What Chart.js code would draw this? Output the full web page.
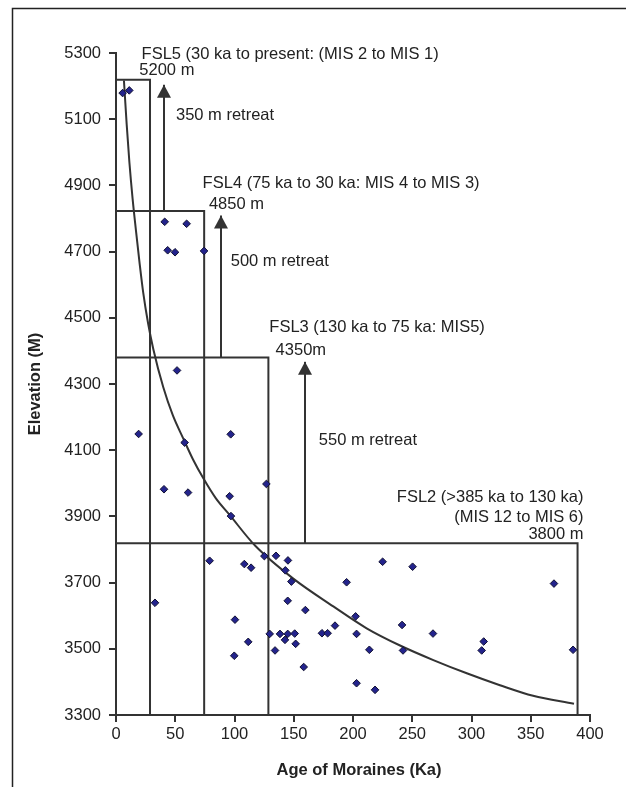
<!DOCTYPE html>
<html><head><meta charset="utf-8">
<script src="https://cdn.jsdelivr.net/npm/chart.js@4.4.0/dist/chart.umd.min.js"></script>
<style>html,body{margin:0;padding:0;background:#fff;} canvas{display:block;}</style>
</head><body>
<canvas id="c" width="626" height="787"></canvas>
<script>
// ---- data ----
const moraineAge  = [5.6, 11.2, 41.1, 59.6, 43.6, 49.8, 74.3, 51.5, 19.1, 57.9, 96.8, 40.5, 60.8, 95.9, 126.9, 97, 79, 32.9, 108.3, 114, 125.2, 135, 145.1, 142.9, 148, 144.9, 159.8, 100.4, 129.7, 138.4, 144.9, 150.8, 142.6, 151.6, 111.6, 134.2, 99.8, 158.4, 173.8, 178.6, 184.8, 194.6, 202.2, 203, 203, 213.8, 218.6, 225, 250.3, 241.4, 242.2, 267.5, 308.6, 310.3, 369.6, 385.7];
const moraineElev = [5179, 5187, 4790, 4784, 4704, 4698, 4702, 4341, 4149, 4123, 4148, 3982, 3972, 3961, 3998, 3901, 3766, 3639, 3756, 3745, 3780, 3781, 3767, 3737, 3703, 3645, 3617, 3588, 3545, 3545, 3545, 3546, 3527, 3515, 3521, 3495, 3479, 3445, 3547, 3547, 3570, 3701, 3598, 3545, 3396, 3497, 3376, 3763, 3748, 3572, 3495, 3546, 3495, 3522, 3697, 3497];
const trendAge  = [6.7, 9, 11.3, 14, 16.9, 20, 23, 27, 31.5, 39.9, 48, 56.8, 65, 73.7, 84, 96.2, 117.3, 149.6, 183.4, 211.5, 239.7, 267.8, 296, 324, 352, 386.5];
const trendElev = [5217, 5085, 4970, 4860, 4762, 4662, 4575, 4485, 4405, 4290, 4205, 4135, 4072, 4015, 3956, 3903, 3812, 3712, 3628, 3562, 3510, 3466, 3426, 3390, 3358, 3334];
const xTickValues = [0, 50, 100, 150, 200, 250, 300, 350, 400];
const yTickValues = [3300, 3500, 3700, 3900, 4100, 4300, 4500, 4700, 4900, 5100, 5300];
const stageNames    = ['FSL5', 'FSL4', 'FSL3', 'FSL2'];
const stageAgeLimit = [28.7, 74.4, 128.6, 389.5];
const stageElevTop  = [5219, 4823, 4380, 3819];
const arrowAge  = [40.5, 88.6, 159.5];
const arrowBase = [4823, 4380, 3819];
const arrowTip  = [5204, 4809, 4367];

// ---- annotation texts (anchored in data coordinates) ----
const notes = [
  {t:'FSL5 (30 ka to present: (MIS 2 to MIS 1)', x:21.6, y:5295, a:'left'},
  {t:'5200 m', x:19.7, y:5247, a:'left'},
  {t:'350 m retreat', x:50.6, y:5111, a:'left'},
  {t:'FSL4 (75 ka to 30 ka: MIS 4 to MIS 3)', x:73.1, y:4907, a:'left'},
  {t:'4850 m', x:78.4, y:4841, a:'left'},
  {t:'500 m retreat', x:96.8, y:4669, a:'left'},
  {t:'FSL3 (130 ka to 75 ka: MIS5)', x:129.4, y:4470, a:'left'},
  {t:'4350m', x:134.7, y:4402, a:'left'},
  {t:'550 m retreat', x:171.2, y:4130, a:'left'},
  {t:'FSL2 (>385 ka to 130 ka)', x:394.5, y:3957, a:'right'},
  {t:'(MIS 12 to MIS 6)', x:394.5, y:3898, a:'right'},
  {t:'3800 m', x:394.5, y:3846, a:'right'}
];

const FONT = '"Liberation Sans", Arial, sans-serif';
const LINE = '#333333';

const datasets = [];
datasets.push({
  label: 'Moraines',
  data: moraineAge.map((a, i) => ({x: a, y: moraineElev[i]})),
  pointStyle: 'rectRot', pointRadius: 3.8, pointBorderWidth: 1,
  backgroundColor: '#23238c', borderColor: '#111133', showLine: false, order: 0
});
datasets.push({
  label: 'Trend',
  data: trendAge.map((a, i) => ({x: a, y: trendElev[i]})),
  showLine: true, pointRadius: 0, borderColor: LINE, borderWidth: 2,
  cubicInterpolationMode: 'monotone', fill: false, order: 1
});
stageNames.forEach((n, i) => {
  datasets.push({
    label: n,
    data: [{x: 0, y: stageElevTop[i]}, {x: stageAgeLimit[i], y: stageElevTop[i]}, {x: stageAgeLimit[i], y: 3300}],
    showLine: true, pointRadius: 0, borderColor: LINE, borderWidth: 2, tension: 0, clip: false, order: 2
  });
});
arrowAge.forEach((a, i) => {
  datasets.push({
    label: 'arrow' + i,
    data: [{x: a, y: arrowBase[i]}, {x: a, y: arrowTip[i]}],
    showLine: true, pointRadius: 0, borderColor: LINE, borderWidth: 2, tension: 0, clip: false, order: 2
  });
});

const decor = {
  id: 'decor',
  beforeDraw(chart) {
    const ctx = chart.ctx;
    ctx.save();
    ctx.fillStyle = '#fff';
    ctx.fillRect(0, 0, chart.width, chart.height);
    ctx.strokeStyle = '#222';
    ctx.lineWidth = 1.5;
    ctx.beginPath();
    ctx.moveTo(12.5, 787); ctx.lineTo(12.5, 8.5); ctx.lineTo(626, 8.5);
    ctx.stroke();
    ctx.restore();
  },
  afterDatasetsDraw(chart) {
    const ctx = chart.ctx, xs = chart.scales.x, ys = chart.scales.y;
    ctx.save();
    ctx.fillStyle = LINE;
    arrowAge.forEach((a, i) => {
      const px = xs.getPixelForValue(a), py = ys.getPixelForValue(arrowTip[i]);
      ctx.beginPath();
      ctx.moveTo(px, py);
      ctx.lineTo(px - 7, py + 13);
      ctx.lineTo(px + 7, py + 13);
      ctx.closePath();
      ctx.fill();
    });
    ctx.fillStyle = '#222';
    ctx.font = '16.5px ' + FONT;
    ctx.textBaseline = 'middle';
    notes.forEach(n => {
      ctx.textAlign = n.a;
      ctx.fillText(n.t, xs.getPixelForValue(n.x), ys.getPixelForValue(n.y));
    });
    ctx.font = 'bold 16.5px ' + FONT;
    ctx.textAlign = 'center';
    ctx.fillText('Age of Moraines (Ka)', (chart.chartArea.left + chart.chartArea.right) / 2 + 6, 770);
    ctx.translate(35, (chart.chartArea.top + chart.chartArea.bottom) / 2);
    ctx.rotate(-Math.PI / 2);
    ctx.fillText('Elevation (M)', 0, 0);
    ctx.restore();
  }
};

const tickFont = {family: FONT, size: 16.5};
new Chart(document.getElementById('c'), {
  type: 'scatter',
  data: {datasets},
  options: {
    responsive: false, animation: false, devicePixelRatio: 1,
    layout: {padding: {left: 0, top: 53, right: 36, bottom: 0}},
    plugins: {legend: {display: false}, tooltip: {enabled: false}},
    scales: {
      x: {
        type: 'linear', min: 0, max: 400,
        afterBuildTicks: s => { s.ticks = xTickValues.map(v => ({value: v})); },
        afterFit: s => { s.height = 72; },
        grid: {drawOnChartArea: false, drawTicks: true, tickLength: 7, color: LINE, lineWidth: 2},
        border: {color: LINE, width: 2},
        ticks: {padding: 3, color: '#222', font: tickFont, maxRotation: 0, callback: v => String(v)}
      },
      y: {
        type: 'linear', min: 3300, max: 5300,
        afterBuildTicks: s => { s.ticks = yTickValues.map(v => ({value: v})); },
        afterFit: s => { s.width = 116; },
        grid: {drawOnChartArea: false, drawTicks: true, tickLength: 7, color: LINE, lineWidth: 2},
        border: {color: LINE, width: 2},
        ticks: {padding: 8, color: '#222', font: tickFont, callback: v => String(v)}
      }
    }
  },
  plugins: [decor]
});
</script>
</body></html>
